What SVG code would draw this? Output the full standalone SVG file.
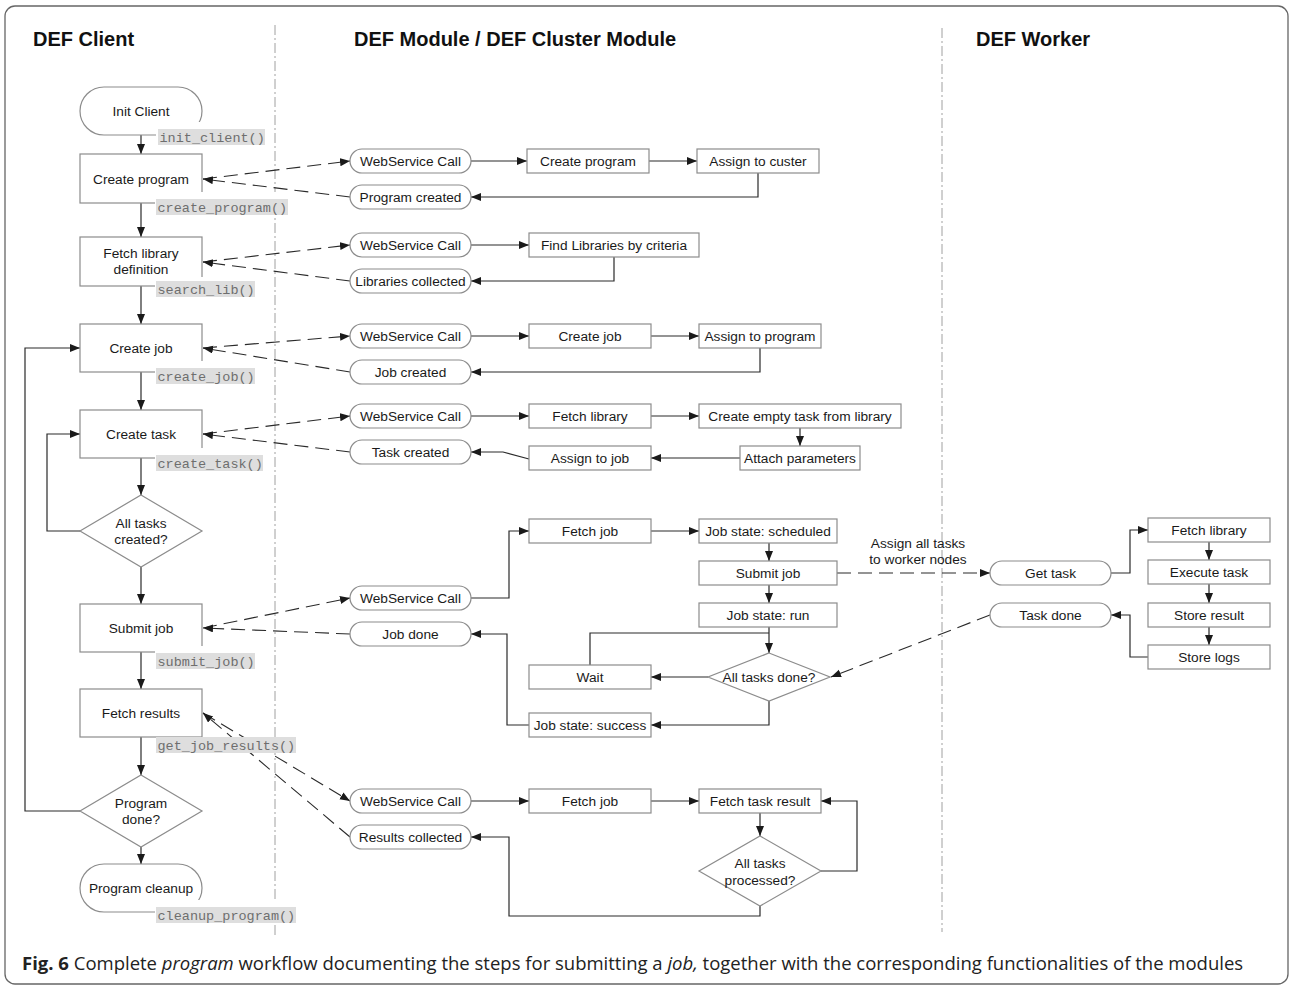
<svg xmlns="http://www.w3.org/2000/svg" width="1291" height="988" viewBox="0 0 1291 988">
<style>
.n{fill:#fff;stroke:#8c8c8c;stroke-width:1.2}
.t{font-family:"Liberation Sans",Arial,sans-serif;font-size:13.7px;fill:#1a1a1a;text-anchor:middle}
.h{font-family:"Liberation Sans",Arial,sans-serif;font-size:20px;font-weight:bold;fill:#111}
.c{fill:none;stroke:#2a2a2a;stroke-width:1.2}
.d{fill:none;stroke:#2a2a2a;stroke-width:1.1;stroke-dasharray:14,7}
.lb{fill:#dedede}
.lw{fill:#fff}
.m{font-family:"Liberation Mono","Courier New",monospace;font-size:13.5px;fill:#6e6e6e}
.sep{stroke:#a0a0a0;stroke-width:1;stroke-dasharray:10,3,2,3;fill:none}
.cap{font-family:"Open Sans","Noto Sans",sans-serif;font-size:18.5px;fill:#222}
</style>
<defs>
<marker id="a" markerUnits="userSpaceOnUse" markerWidth="11" markerHeight="9" refX="10" refY="4" orient="auto">
<path d="M0,0 L10,4 L0,8 z" fill="#1a1a1a"/>
</marker>
</defs>
<rect x="5" y="6" width="1283" height="978" rx="10" fill="#fff" stroke="#666" stroke-width="1.3"/>
<line class="sep" x1="275" y1="25" x2="275" y2="935"/>
<line class="sep" x1="942" y1="28" x2="942" y2="932"/>
<text class="h" x="33" y="46">DEF Client</text>
<text class="h" x="354" y="46">DEF Module / DEF Cluster Module</text>
<text class="h" x="976" y="46">DEF Worker</text>

<g id="connectors">
<path class="c" marker-end="url(#a)" d="M141,135 V154"/>
<path class="c" marker-end="url(#a)" d="M141,203 V237"/>
<path class="c" marker-end="url(#a)" d="M141,286 V324"/>
<path class="c" marker-end="url(#a)" d="M141,372 V410"/>
<path class="c" marker-end="url(#a)" d="M141,458 V495"/>
<path class="c" marker-end="url(#a)" d="M141,567 V604"/>
<path class="c" marker-end="url(#a)" d="M141,652 V689"/>
<path class="c" marker-end="url(#a)" d="M141,737 V775"/>
<path class="c" marker-end="url(#a)" d="M141,847 V864"/>
<path class="c" marker-end="url(#a)" d="M80,531 H47 V434 H80"/>
<path class="c" marker-end="url(#a)" d="M80,811 H25 V348 H80"/>

<path class="d" marker-end="url(#a)" d="M203,179 L350,161"/>
<path class="d" marker-end="url(#a)" d="M350,197 L203,179"/>
<path class="d" marker-end="url(#a)" d="M203,262 L350,245"/>
<path class="d" marker-end="url(#a)" d="M350,281 L203,262"/>
<path class="d" marker-end="url(#a)" d="M203,348 L350,336"/>
<path class="d" marker-end="url(#a)" d="M350,372 L203,348"/>
<path class="d" marker-end="url(#a)" d="M203,434 L350,416"/>
<path class="d" marker-end="url(#a)" d="M350,452 L203,434"/>
<path class="d" marker-end="url(#a)" d="M203,628 L350,598"/>
<path class="d" marker-end="url(#a)" d="M350,634 L203,628"/>
<path class="d" marker-end="url(#a)" d="M203,713 L350,801"/>
<path class="d" marker-end="url(#a)" d="M350,837 L203,713"/>
<path class="d" marker-end="url(#a)" d="M837,573 L990,573"/>
<path class="d" marker-end="url(#a)" d="M990,615 L831,677"/>

<path class="c" marker-end="url(#a)" d="M471,161 H527"/>
<path class="c" marker-end="url(#a)" d="M649,161 H697"/>
<path class="c" marker-end="url(#a)" d="M758,173 V197 H471"/>
<path class="c" marker-end="url(#a)" d="M471,245 H529"/>
<path class="c" marker-end="url(#a)" d="M614,257 V281 H471"/>
<path class="c" marker-end="url(#a)" d="M471,336 H529"/>
<path class="c" marker-end="url(#a)" d="M651,336 H699"/>
<path class="c" marker-end="url(#a)" d="M760,348 V372 H471"/>
<path class="c" marker-end="url(#a)" d="M471,416 H529"/>
<path class="c" marker-end="url(#a)" d="M651,416 H699"/>
<path class="c" marker-end="url(#a)" d="M800,428 V446"/>
<path class="c" marker-end="url(#a)" d="M740,458 H651"/>
<path class="c" marker-end="url(#a)" d="M529,459 L503,452 H471"/>
<path class="c" marker-end="url(#a)" d="M471,598 H509 V531 H529"/>
<path class="c" marker-end="url(#a)" d="M651,531 H699"/>
<path class="c" marker-end="url(#a)" d="M769,543 V561"/>
<path class="c" marker-end="url(#a)" d="M769,585 V603"/>
<path class="c" marker-end="url(#a)" d="M769,627 V653"/>
<path class="c" d="M590,665 V633 H769"/>
<path class="c" marker-end="url(#a)" d="M708,677 H651"/>
<path class="c" marker-end="url(#a)" d="M769,701 V725 H651"/>
<path class="c" marker-end="url(#a)" d="M529,725 H507 V634 H471"/>
<path class="c" marker-end="url(#a)" d="M1111,573 H1130 V530 H1148"/>
<path class="c" marker-end="url(#a)" d="M1209,542 V560"/>
<path class="c" marker-end="url(#a)" d="M1209,584 V603"/>
<path class="c" marker-end="url(#a)" d="M1209,627 V645"/>
<path class="c" marker-end="url(#a)" d="M1148,657 H1130 V615 H1111"/>
<path class="c" marker-end="url(#a)" d="M471,801 H529"/>
<path class="c" marker-end="url(#a)" d="M651,801 H699"/>
<path class="c" marker-end="url(#a)" d="M760,813 V836"/>
<path class="c" marker-end="url(#a)" d="M821,871 H857 V801 H821"/>
<path class="c" marker-end="url(#a)" d="M760,906 V916 H509 V837 H471"/>
<text class="t" x="918" y="548">Assign all tasks</text>
<text class="t" x="918" y="564">to worker nodes</text>
</g>

<g id="init-client"><rect class="n" x="80" y="87" width="122" height="48" rx="24"/><text class="t" x="141" y="116">Init Client</text></g>
<g id="create-program"><rect class="n" x="80" y="154" width="122" height="49"/><text class="t" x="141" y="184">Create program</text></g>
<g id="fetch-library-definition"><rect class="n" x="80" y="237" width="122" height="49"/><text class="t" x="141" y="258">Fetch library</text><text class="t" x="141" y="274">definition</text></g>
<g id="create-job"><rect class="n" x="80" y="324" width="122" height="48"/><text class="t" x="141" y="353">Create job</text></g>
<g id="create-task"><rect class="n" x="80" y="410" width="122" height="48"/><text class="t" x="141" y="439">Create task</text></g>
<g id="all-tasks-created"><path class="n" d="M141,495 L202,531 L141,567 L80,531 z"/><text class="t" x="141" y="528">All tasks</text><text class="t" x="141" y="544">created?</text></g>
<g id="submit-job"><rect class="n" x="80" y="604" width="122" height="48"/><text class="t" x="141" y="633">Submit job</text></g>
<g id="fetch-results"><rect class="n" x="80" y="689" width="122" height="48"/><text class="t" x="141" y="718">Fetch results</text></g>
<g id="program-done"><path class="n" d="M141,775 L202,811 L141,847 L80,811 z"/><text class="t" x="141" y="808">Program</text><text class="t" x="141" y="824">done?</text></g>
<g id="program-cleanup"><rect class="n" x="80" y="864" width="122" height="48" rx="24"/><text class="t" x="141" y="893">Program cleanup</text></g>

<g id="labels">
<rect class="lw" x="156" y="122" width="110" height="23"/><rect class="lb" x="158" y="129" width="107" height="16"/><text class="m" x="159.5" y="142">init_client()</text>
<rect class="lw" x="155" y="192" width="134" height="23"/><rect class="lb" x="156" y="199" width="132" height="16"/><text class="m" x="157.5" y="212">create_program()</text>
<rect class="lw" x="155" y="277" width="101" height="20"/><rect class="lb" x="156" y="281" width="99" height="16"/><text class="m" x="157.5" y="294">search_lib()</text>
<rect class="lw" x="155" y="361" width="101" height="23"/><rect class="lb" x="156" y="368" width="99" height="16"/><text class="m" x="157.5" y="381">create_job()</text>
<rect class="lw" x="155" y="448" width="109" height="23"/><rect class="lb" x="156" y="455" width="107" height="16"/><text class="m" x="157.5" y="468">create_task()</text>
<rect class="lw" x="155" y="646" width="101" height="23"/><rect class="lb" x="156" y="653" width="99" height="16"/><text class="m" x="157.5" y="666">submit_job()</text>
<rect class="lb" x="156" y="737" width="140" height="16"/><text class="m" x="157.5" y="750">get_job_results()</text>
<rect class="lw" x="155" y="900" width="142" height="23"/><rect class="lb" x="156" y="907" width="140" height="16"/><text class="m" x="157.5" y="920">cleanup_program()</text>
</g>

<g id="ws1"><rect class="n" x="350" y="149" width="121" height="24" rx="12"/><text class="t" x="410.5" y="166">WebService Call</text></g>
<g id="m-create-program"><rect class="n" x="527" y="149" width="122" height="24"/><text class="t" x="588" y="166">Create program</text></g>
<g id="assign-to-custer"><rect class="n" x="697" y="149" width="122" height="24"/><text class="t" x="758" y="166">Assign to custer</text></g>
<g id="program-created"><rect class="n" x="350" y="185" width="121" height="24" rx="12"/><text class="t" x="410.5" y="202">Program created</text></g>

<g id="ws2"><rect class="n" x="350" y="233" width="121" height="24" rx="12"/><text class="t" x="410.5" y="250">WebService Call</text></g>
<g id="find-libraries"><rect class="n" x="529" y="233" width="170" height="24"/><text class="t" x="614" y="250">Find Libraries by criteria</text></g>
<g id="libraries-collected"><rect class="n" x="350" y="269" width="121" height="24" rx="12"/><text class="t" x="410.5" y="286">Libraries collected</text></g>

<g id="ws3"><rect class="n" x="350" y="324" width="121" height="24" rx="12"/><text class="t" x="410.5" y="341">WebService Call</text></g>
<g id="m-create-job"><rect class="n" x="529" y="324" width="122" height="24"/><text class="t" x="590" y="341">Create job</text></g>
<g id="assign-to-program"><rect class="n" x="699" y="324" width="122" height="24"/><text class="t" x="760" y="341">Assign to program</text></g>
<g id="job-created"><rect class="n" x="350" y="360" width="121" height="24" rx="12"/><text class="t" x="410.5" y="377">Job created</text></g>

<g id="ws4"><rect class="n" x="350" y="404" width="121" height="24" rx="12"/><text class="t" x="410.5" y="421">WebService Call</text></g>
<g id="m-fetch-library"><rect class="n" x="529" y="404" width="122" height="24"/><text class="t" x="590" y="421">Fetch library</text></g>
<g id="create-empty-task"><rect class="n" x="699" y="404" width="202" height="24"/><text class="t" x="800" y="421">Create empty task from library</text></g>
<g id="attach-parameters"><rect class="n" x="740" y="446" width="120" height="24"/><text class="t" x="800" y="463">Attach parameters</text></g>
<g id="assign-to-job"><rect class="n" x="529" y="446" width="122" height="24"/><text class="t" x="590" y="463">Assign to job</text></g>
<g id="task-created"><rect class="n" x="350" y="440" width="121" height="24" rx="12"/><text class="t" x="410.5" y="457">Task created</text></g>

<g id="m-fetch-job"><rect class="n" x="529" y="519" width="122" height="24"/><text class="t" x="590" y="536">Fetch job</text></g>
<g id="job-state-scheduled"><rect class="n" x="699" y="519" width="138" height="24"/><text class="t" x="768" y="536">Job state: scheduled</text></g>
<g id="m-submit-job"><rect class="n" x="699" y="561" width="138" height="24"/><text class="t" x="768" y="578">Submit job</text></g>
<g id="job-state-run"><rect class="n" x="699" y="603" width="138" height="24"/><text class="t" x="768" y="620">Job state: run</text></g>
<g id="ws5"><rect class="n" x="350" y="586" width="121" height="24" rx="12"/><text class="t" x="410.5" y="603">WebService Call</text></g>
<g id="job-done"><rect class="n" x="350" y="622" width="121" height="24" rx="12"/><text class="t" x="410.5" y="639">Job done</text></g>
<g id="wait"><rect class="n" x="529" y="665" width="122" height="24"/><text class="t" x="590" y="682">Wait</text></g>
<g id="all-tasks-done"><path class="n" d="M769,653 L830,677 L769,701 L708,677 z"/><text class="t" x="769" y="682">All tasks done?</text></g>
<g id="job-state-success"><rect class="n" x="529" y="713" width="122" height="24"/><text class="t" x="590" y="730">Job state: success</text></g>

<g id="ws6"><rect class="n" x="350" y="789" width="121" height="24" rx="12"/><text class="t" x="410.5" y="806">WebService Call</text></g>
<g id="r-fetch-job"><rect class="n" x="529" y="789" width="122" height="24"/><text class="t" x="590" y="806">Fetch job</text></g>
<g id="fetch-task-result"><rect class="n" x="699" y="789" width="122" height="24"/><text class="t" x="760" y="806">Fetch task result</text></g>
<g id="results-collected"><rect class="n" x="350" y="825" width="121" height="24" rx="12"/><text class="t" x="410.5" y="842">Results collected</text></g>
<g id="all-tasks-processed"><path class="n" d="M760,836 L821,871 L760,906 L699,871 z"/><text class="t" x="760" y="868">All tasks</text><text class="t" x="760" y="885">processed?</text></g>

<g id="get-task"><rect class="n" x="990" y="561" width="121" height="24" rx="12"/><text class="t" x="1050.5" y="578">Get task</text></g>
<g id="task-done"><rect class="n" x="990" y="603" width="121" height="24" rx="12"/><text class="t" x="1050.5" y="620">Task done</text></g>
<g id="w-fetch-library"><rect class="n" x="1148" y="518" width="122" height="24"/><text class="t" x="1209" y="535">Fetch library</text></g>
<g id="execute-task"><rect class="n" x="1148" y="560" width="122" height="24"/><text class="t" x="1209" y="577">Execute task</text></g>
<g id="store-result"><rect class="n" x="1148" y="603" width="122" height="24"/><text class="t" x="1209" y="620">Store result</text></g>
<g id="store-logs"><rect class="n" x="1148" y="645" width="122" height="24"/><text class="t" x="1209" y="662">Store logs</text></g>

<text class="cap" x="22" y="970"><tspan font-weight="bold">Fig. 6</tspan> Complete <tspan font-style="italic">program</tspan> workflow documenting the steps for submitting a <tspan font-style="italic">job,</tspan> together with the corresponding functionalities of the modules</text>
</svg>
